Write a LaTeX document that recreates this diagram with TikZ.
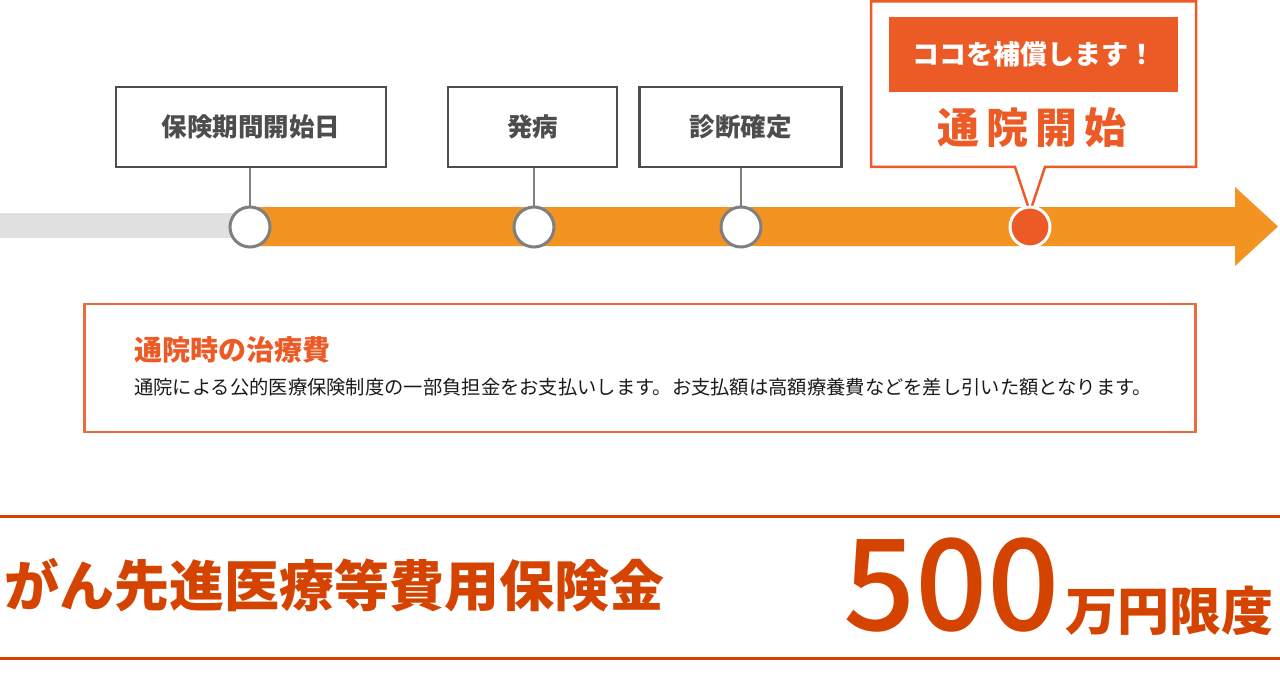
\documentclass[tikz,border=0pt]{standalone}
\usepackage{fontspec}
\setmainfont{Noto Sans CJK JP}
\newfontfamily\medium{Noto Sans CJK JP Medium}
\usetikzlibrary{positioning}
\definecolor{corange}{HTML}{F29322}
\definecolor{cbar}{HTML}{E1E1E1}
\definecolor{cgrey}{HTML}{7F7F7F}
\definecolor{cdark}{HTML}{4D4D4D}
\definecolor{cred}{HTML}{EC5A26}
\definecolor{cinfo}{HTML}{EB6A3E}
\definecolor{crust}{HTML}{D54300}
\definecolor{ctext}{HTML}{1A1A1A}
\newcommand{\fsz}[1]{\fontsize{#1}{#1}\selectfont}
\tikzset{
  every picture/.style={x=1pt, y=-1pt},
  tag/.style={draw=cdark, fill=white, line width=2.5pt, minimum height=80pt, text=cdark, font=\fsz{25.5}\bfseries},
  dot/.style={circle, draw=cgrey, fill=white, line width=3pt, minimum size=40pt, inner sep=0pt},
  hotdot/.style={dot, draw=white, fill=cred},
  stem/.style={draw=cgrey, line width=2.5pt},
  rule/.style={draw=crust, line width=3pt},
}
\begin{document}
\begin{tikzpicture}
  \useasboundingbox (0,0) rectangle (1280,674);
  % timeline
  \fill[cbar] (0,213) rectangle (250,238);
  \fill[corange] (250,207) -- (1235,207) -- (1235,187) -- (1278,226.5) -- (1235,266) -- (1235,246) -- (250,246) -- cycle;
  \node[tag, minimum width=270pt] (start) at (251,127) {保険期間開始日};
  \node[tag, minimum width=169pt] (onset) at (532.5,127) {発病};
  \node[tag, minimum width=202pt] (diag) at (740.5,127) {診断確定};
  \node[dot] (dstart) at (250,227) {};
  \node[dot] (donset) at (534,227) {};
  \node[dot] (ddiag) at (741,227) {};
  \draw[stem] (start.south -| dstart) -- (dstart.north);
  \draw[stem] (onset.south -| donset) -- (donset.north);
  \draw[stem] (diag.south -| ddiag) -- (ddiag.north);
  % callout
  \draw[cred, fill=white, line width=2.5pt] (871,1.5) -- (1196,1.5) -- (1196,167) -- (1045,167) -- (1030,212) -- (1015,167) -- (871,167) -- cycle;
  \node[fill=cred, minimum width=289pt, minimum height=75pt, text=white, font=\fsz{27}\bfseries] (here) at (1033.5,54.5) {ココを補償します！};
  \node[text=cred, font=\fsz{42}\bfseries] (visit) at (1032,128) {通\,院\,開\,始};
  \node[hotdot] (dvisit) at (1030,227) {};
  % info box
  \node[draw=cinfo, line width=2.5pt, minimum width=1111pt, minimum height=128pt] (info) at (640,368) {};
  \node[anchor=west, inner sep=0pt, text=cred, font=\fsz{28}\bfseries] (infotitle) at (134,350) {通院時の治療費};
  \node[anchor=west, inner sep=0pt, text=ctext, font=\fsz{19.3}] (infobody) at (134,387) {通院による公的医療保険制度の一部負担金をお支払いします。お支払額は高額療養費などを差し引いた額となります。};
  % benefit
  \draw[rule] (0,516) -- (1280,516);
  \draw[rule] (0,658) -- (1280,658);
  \node[anchor=base west, inner sep=0pt, text=crust, font=\fsz{55}\bfseries] (benefit) at (4,606) {がん先進医療等費用保険金};
  \node[anchor=base west, inner sep=0pt, text=crust, font=\fsz{127}\medium] (amount) at (843,630) {500};
  \node[anchor=base west, inner sep=0pt, text=crust, font=\fsz{52}\bfseries, xshift=5pt] (unit) at (amount.base east) {万円限度};
\end{tikzpicture}
\end{document}
